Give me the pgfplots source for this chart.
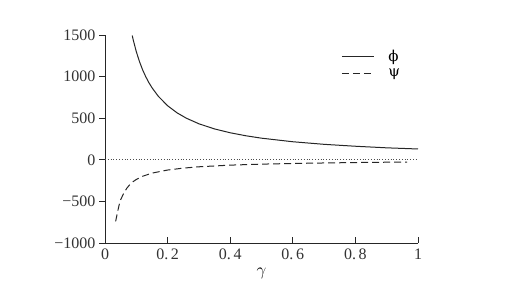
\documentclass[border=0pt]{standalone}
\usepackage{fontspec}
\setmainfont{Liberation Serif}
\newfontfamily\greekfont{DejaVu Serif}
\usepackage{pgfplots}
\pgfplotsset{compat=1.18}
\begin{document}
\begin{tikzpicture}[x=1pt,y=1pt]
\useasboundingbox (0,0) rectangle (516,301);
\begin{axis}[
  at={(105pt,58pt)}, anchor=south west,
  scale only axis, width=313pt, height=208pt,
  xmin=0, xmax=1, ymin=-1000, ymax=1500,
  axis lines*=left,
  axis line style={line width=1pt, color=black!85},
  xtick={0,0.2,0.4,0.6,0.8,1},
  xticklabels={0,0.\,2,0.\,4,0.\,6,0.\,8,1},
  ytick={-1000,-500,0,500,1000,1500},
  yticklabels={−1000,−500,0,500,1000,1500},
  xtick align=inside, ytick align=outside,
  major tick length=6pt,
  tick style={line width=1pt, color=black!85},
  tick label style={font=\fontsize{16}{17}\selectfont, text=black!80},
  x tick label style={yshift=-2pt},
  xlabel={$\gamma$}, xlabel style={font=\fontsize{17}{18}\selectfont, yshift=-2pt},
  legend style={draw=none, fill=none, at={(axis cs:0.745,1370)}, anchor=north west,
    font=\fontsize{15}{18}\selectfont, row sep=2pt},
  legend cell align=left,
  legend image code/.code={\draw[#1] (0pt,0pt) -- (32pt,0pt);},
]
\addplot[line width=1pt, color=black!85] coordinates {
(0.087,1494)(0.09,1444)(0.1,1300)(0.11,1182)(0.12,1083)(0.13,1000)(0.14,929)(0.15,867)(0.17,765)(0.2,650)(0.23,565)(0.26,500)(0.3,433)(0.35,371)(0.4,325)(0.45,289)(0.5,260)(0.6,217)(0.7,186)(0.8,163)(0.9,144)(1.0,130)};
\addlegendentry{\hspace{12pt}{\greekfont ϕ}}
\addplot[line width=1pt, color=black!85, dash pattern=on 7pt off 4pt] coordinates {
(0.034,-740)(0.04,-630)(0.045,-545)(0.05,-480)(0.06,-400)(0.07,-340)(0.08,-295)(0.09,-262)(0.1,-236)(0.12,-198)(0.15,-160)(0.2,-123)(0.25,-100)(0.3,-84)(0.4,-64)(0.5,-52)(0.6,-44)(0.7,-38)(0.8,-33)(0.9,-29)(0.965,-27)};
\addlegendentry{\hspace{12pt}{\greekfont ψ}}
\addplot[line width=0.8pt, color=black!70, dotted, forget plot] coordinates {(0,0)(1,0)};
\end{axis}
\end{tikzpicture}
\end{document}
